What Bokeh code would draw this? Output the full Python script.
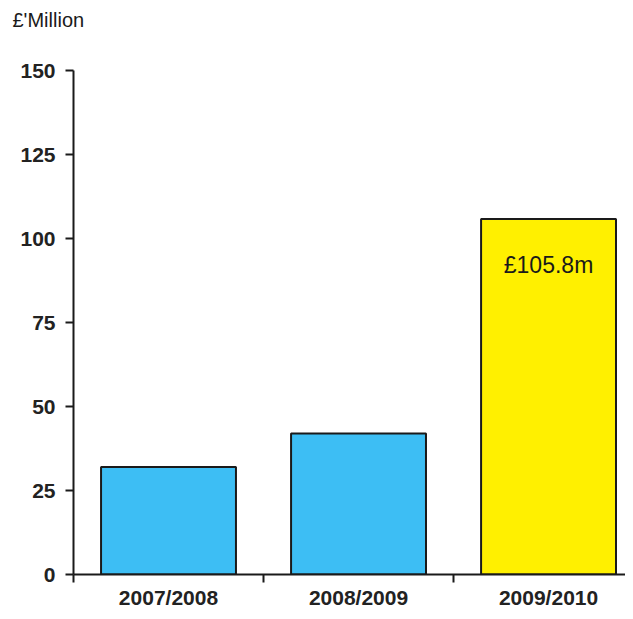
from bokeh.plotting import figure
from bokeh.models import Range1d, FixedTicker, ColumnDataSource, Title
from bokeh.embed import file_html
from bokeh.resources import INLINE
from bokeh.core.properties import value

categories = ["2007/2008", "2008/2009", "2009/2010"]
values = [32.0, 42.0, 105.8]
bar_colors = ["#3DBEF4", "#3DBEF4", "#FFF000"]
bar_labels = ["", "", "£105.8m"]
y_ticks = [0, 25, 50, 75, 100, 125, 150]
unit_title = "£'Million"

xs = [i + 0.5 for i in range(len(categories))]
src = ColumnDataSource(dict(x=xs, top=values, color=bar_colors, label=bar_labels))

p = figure(width=625, height=611, output_backend="svg", toolbar_location=None,
           x_range=Range1d(0, 2.905), y_range=Range1d(0, 150),
           min_border_left=73, min_border_right=0, min_border_top=70, min_border_bottom=36)
p.outline_line_color = None
p.xgrid.visible = False
p.ygrid.visible = False

p.vbar(x="x", top="top", width=0.71, bottom=0, source=src, fill_color="color",
       line_color="#1a1a1a", line_width=2)
p.text(x="x", y="top", text="label", source=src, text_align="center", text_baseline="middle",
       y_offset=46, text_font=value("Liberation Sans"), text_font_size="23px", text_color="#1a1a1a")

# x axis
p.xaxis.ticker = FixedTicker(ticks=xs, minor_ticks=[0, 1, 2, 3])
p.xaxis.major_label_overrides = {x: c for x, c in zip(xs, categories)}
p.xaxis.major_tick_out = 0
p.xaxis.major_tick_in = 0
p.xaxis.minor_tick_out = 8
p.xaxis.minor_tick_in = 0
p.xaxis.minor_tick_line_width = 2
p.xaxis.minor_tick_line_color = "#1a1a1a"
p.xaxis.axis_line_width = 2
p.xaxis.axis_line_color = "#1a1a1a"
p.xaxis.major_label_standoff = 3
p.xaxis.major_label_text_font = "Liberation Sans"
p.xaxis.major_label_text_font_style = "bold"
p.xaxis.major_label_text_font_size = "21px"
p.xaxis.major_label_text_color = "#222222"

# y axis
p.yaxis.ticker = FixedTicker(ticks=y_ticks)
p.yaxis.major_tick_out = 8
p.yaxis.major_tick_in = 0
p.yaxis.minor_tick_out = 0
p.yaxis.minor_tick_in = 0
p.yaxis.major_tick_line_width = 2
p.yaxis.major_tick_line_color = "#1a1a1a"
p.yaxis.axis_line_width = 2
p.yaxis.axis_line_color = "#1a1a1a"
p.yaxis.major_label_standoff = 10
p.yaxis.major_label_text_font = "Liberation Sans"
p.yaxis.major_label_text_font_style = "bold"
p.yaxis.major_label_text_font_size = "21px"
p.yaxis.major_label_text_color = "#222222"

# spacer panel between the frame and the unit title
spacer = Title(text=" ", text_font_size="1px", standoff=35)
p.add_layout(spacer, "above")

p.title.text = unit_title
p.title.align = "left"
p.title.vertical_align = "top"
p.title.offset = -61
p.title.standoff = 0
p.title.text_font = "Liberation Sans"
p.title.text_font_style = "normal"
p.title.text_font_size = "20px"
p.title.text_color = "#1a1a1a"

open("out.html", "w").write(file_html(p, INLINE))
